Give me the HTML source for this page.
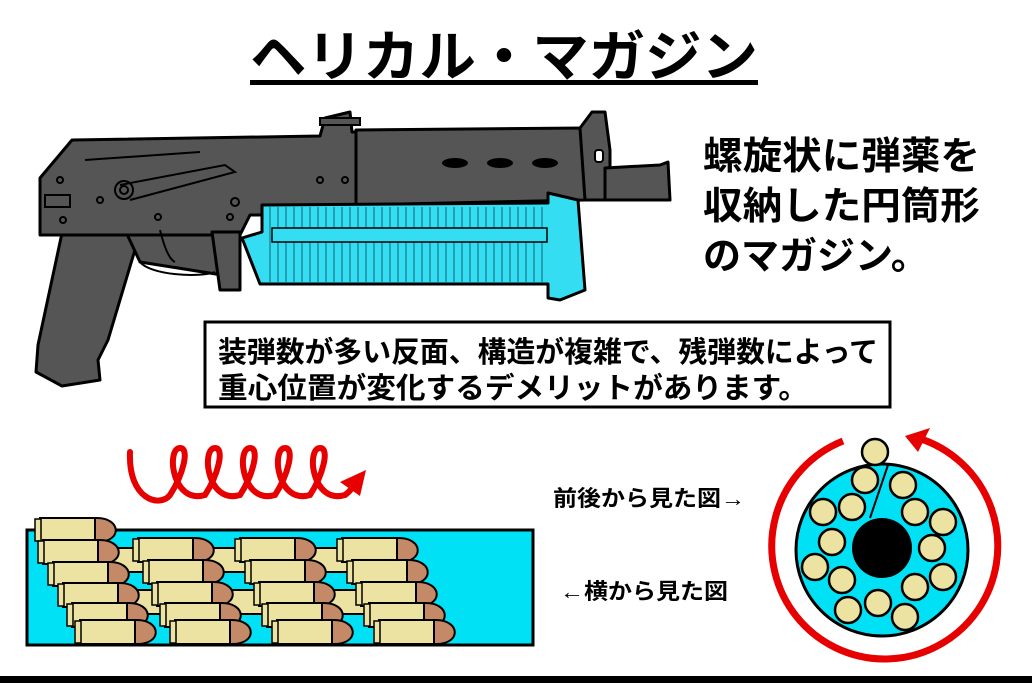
<!DOCTYPE html>
<html><head><meta charset="utf-8"><style>
html,body{margin:0;padding:0;background:#fff;}
svg{display:block;}
text{font-family:"Liberation Sans","Noto Sans CJK JP",sans-serif;font-weight:bold;fill:#000;}
</style></head><body>
<svg width="1032" height="683" viewBox="0 0 1032 683" xmlns="http://www.w3.org/2000/svg">
<defs>
<g id="b">
<path d="M56,0 L62,0 C86,0 88,24 62,24 L56,24 Z" fill="#c48a68" stroke="#000" stroke-width="2"/>
<rect x="5" y="0" width="55" height="24" fill="#ece3a2" stroke="#000" stroke-width="2"/>
<rect x="0" y="1" width="6" height="22" fill="#ece3a2" stroke="#000" stroke-width="1.5"/>
</g>
</defs>
<!-- title -->
<text x="250" y="76" font-size="55" textLength="508" lengthAdjust="spacingAndGlyphs">ヘリカル・マガジン</text>
<rect x="250" y="80" width="508" height="5" fill="#000"/>
<!-- right text -->
<text x="703" y="169" font-size="38" textLength="277" lengthAdjust="spacingAndGlyphs">螺旋状に弾薬を</text>
<text x="703" y="219" font-size="38" textLength="277" lengthAdjust="spacingAndGlyphs">収納した円筒形</text>
<text x="703" y="269" font-size="38">のマガジン。</text>

<!-- gun -->
<g stroke="#000" stroke-width="3" stroke-linejoin="round" fill="#555">
<path d="M62,233 L140,233 L108,340 L98,360 L100,380 L62,386 L36,372 L38,345 Z"/>
<path d="M125,230 L240,230 L240,262 L225,262 L222,275 L140,262 Z"/>
<path d="M40,178 L72,140 L320,136 L325,118 L350,112 L352,132 L356,132 L356,215 L250,215 L240,235 L40,235 Z"/>
<path d="M356,130 L585,128 L585,200 L356,205 Z"/>
<path d="M585,200 L580,128 L592,112 L605,112 L610,150 L610,200 Z"/>
<path d="M605,168 L660,165 L668,162 L670,200 L605,200 Z"/>
<path d="M212,232 L240,232 L240,290 L220,290 Z"/>
</g>
<rect x="320" y="118" width="40" height="7" fill="#555" stroke="#000" stroke-width="2"/>
<g fill="#000">
<ellipse cx="455" cy="163" rx="13" ry="5"/><ellipse cx="500" cy="163" rx="13" ry="5"/><ellipse cx="545" cy="163" rx="13" ry="5"/>
<rect x="595" y="150" width="8" height="12" rx="3" fill="#fff" stroke="#000" stroke-width="2"/>
</g>
<g fill="none" stroke="#000" stroke-width="2">
<circle cx="124" cy="190" r="9"/><circle cx="124" cy="190" r="4"/>
<path d="M120,185 L225,165 L235,172 L130,200"/>
<path d="M85,160 L200,152"/><rect x="45" y="195" width="25" height="12"/>
<circle cx="60" cy="180" r="3"/><circle cx="63" cy="220" r="3"/><circle cx="100" cy="200" r="3"/>
<circle cx="158" cy="217" r="3"/><circle cx="235" cy="202" r="4"/><circle cx="230" cy="217" r="3"/>
<circle cx="320" cy="180" r="3"/><circle cx="345" cy="180" r="3"/>
<path d="M160,230 C165,250 170,260 175,262"/>
<path d="M140,262 C150,275 200,278 215,272"/>
</g>
<!-- magazine -->
<path d="M242,238 L262,232 L262,205 L548,203 L548,193 L578,200 L585,290 L560,300 L548,298 L548,284 L260,284 Z" fill="#34ddf2" stroke="#000" stroke-width="3" stroke-linejoin="round"/>
<g stroke="#1a8ea0" stroke-width="1.5">
<path d="M270,207 V282 M278,207 V282 M286,207 V282 M294,207 V282 M302,207 V282 M310,207 V282 M318,207 V282 M326,207 V282 M334,207 V282 M342,207 V282 M350,207 V282 M358,207 V282 M366,207 V282 M374,207 V282 M382,207 V282 M390,207 V282 M398,207 V282 M406,207 V282 M414,207 V282 M422,207 V282 M430,207 V282 M438,207 V282 M446,207 V282 M454,207 V282 M462,207 V282 M470,207 V282 M478,207 V282 M486,207 V282 M494,207 V282 M502,207 V282 M510,207 V282 M518,207 V282 M526,207 V282 M534,207 V282 M542,207 V282"/>
</g>
<rect x="272" y="228" width="275" height="14" fill="#34ddf2" stroke="#000" stroke-width="1.5"/>

<!-- info box -->
<rect x="205" y="322" width="685" height="85" fill="#fff" stroke="#000" stroke-width="3"/>
<text x="218" y="362" font-size="29" textLength="660" lengthAdjust="spacingAndGlyphs">装弾数が多い反面、構造が複雑で、残弾数によって</text>
<text x="218" y="398" font-size="29" textLength="590" lengthAdjust="spacingAndGlyphs">重心位置が変化するデメリットがあります。</text>

<!-- spiral -->
<path d="M130,452 C128,500 160,508 170,495 C183,475 190,448 180,448 C166,448 172,505 205,495 C218,475 225,448 215,448 C201,448 207,505 240,495 C253,475 260,448 250,448 C236,448 242,505 275,495 C288,475 295,448 285,448 C271,448 277,505 310,495 C323,475 330,448 320,448 C306,448 312,505 345,495 C352,490 354,485 352,480" fill="none" stroke="#e60000" stroke-width="6" stroke-linecap="round"/>
<polygon points="340,482 366,470 360,496" fill="#e60000"/>

<!-- side view -->
<rect x="27" y="530" width="506" height="115" fill="#00e1f5" stroke="#000" stroke-width="3"/>
<use href="#b" x="95" y="548"/><use href="#b" x="198" y="548"/><use href="#b" x="300" y="548"/>
<use href="#b" x="105" y="590"/><use href="#b" x="208" y="590"/><use href="#b" x="310" y="590"/>
<use href="#b" x="35" y="518"/><use href="#b" x="38" y="540"/><use href="#b" x="48" y="562"/><use href="#b" x="58" y="583"/><use href="#b" x="67" y="603"/><use href="#b" x="75" y="620"/>
<use href="#b" x="133" y="538"/><use href="#b" x="143" y="560"/><use href="#b" x="152" y="582"/><use href="#b" x="160" y="603"/><use href="#b" x="170" y="620"/>
<use href="#b" x="235" y="538"/><use href="#b" x="245" y="560"/><use href="#b" x="254" y="582"/><use href="#b" x="262" y="603"/><use href="#b" x="272" y="620"/>
<use href="#b" x="337" y="538"/><use href="#b" x="347" y="560"/><use href="#b" x="356" y="582"/><use href="#b" x="364" y="603"/><use href="#b" x="374" y="620"/>

<text x="553" y="506" font-size="22" textLength="192" lengthAdjust="spacingAndGlyphs">前後から見た図→</text>
<text x="560" y="599" font-size="22" textLength="168" lengthAdjust="spacingAndGlyphs">←横から見た図</text>

<!-- front view -->
<path d="M843,441 A113,113 0 1,0 918,438" fill="none" stroke="#e60000" stroke-width="7"/>
<polygon points="905,436 930,428 918,452" fill="#e60000"/>
<circle cx="882" cy="550" r="86" fill="#00e1f5" stroke="#000" stroke-width="3"/>
<circle cx="882" cy="548" r="30" fill="#000"/>
<line x1="888" y1="465" x2="870" y2="518" stroke="#000" stroke-width="2"/>
<g fill="#ece3a2" stroke="#000" stroke-width="2.5">
<circle cx="875" cy="452" r="13"/><circle cx="865" cy="480" r="13"/><circle cx="903" cy="485" r="13"/>
<circle cx="852" cy="507" r="13"/><circle cx="823" cy="512" r="13"/><circle cx="915" cy="512" r="13"/>
<circle cx="943" cy="522" r="13"/><circle cx="832" cy="542" r="13"/><circle cx="932" cy="548" r="13"/>
<circle cx="815" cy="567" r="13"/><circle cx="842" cy="580" r="13"/><circle cx="943" cy="577" r="13"/>
<circle cx="915" cy="587" r="13"/><circle cx="848" cy="610" r="13"/><circle cx="878" cy="603" r="13"/>
<circle cx="905" cy="617" r="13"/>
</g>
<rect x="0" y="676" width="1032" height="7" fill="#000"/>
</svg>
</body></html>
